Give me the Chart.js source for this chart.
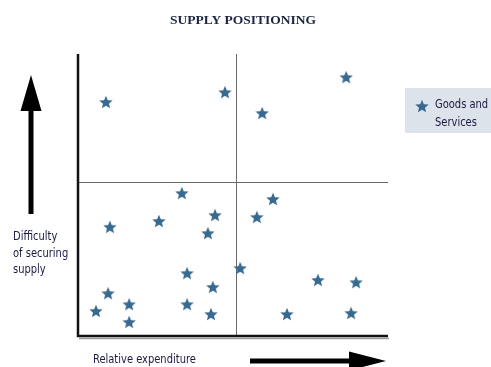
<!DOCTYPE html>
<html>
<head>
<meta charset="utf-8">
<script src="https://cdn.jsdelivr.net/npm/chart.js@4/dist/chart.umd.min.js"></script>
<style>
  html, body { margin: 0; padding: 0; background: #ffffff; }
  #wrap { width: 491px; height: 367px; }
</style>
</head>
<body>
<div id="wrap"><canvas id="c" width="491" height="367"></canvas></div>
<script>
// Supply positioning matrix: relative expenditure (x) vs difficulty of securing supply (y)
const title = 'SUPPLY POSITIONING';
const seriesName = ['Goods and', 'Services'];
const xLabel = 'Relative expenditure';
const yLabel = ['Difficulty', 'of securing', 'supply'];

const expenditure = [9.0, 47.4, 59.4, 86.5, 33.5, 62.9, 10.3, 26.1, 44.2, 41.9, 57.7, 52.3,
                     35.2, 43.5, 9.7, 16.5, 35.2, 5.8, 16.5, 42.9, 77.4, 89.7, 67.4, 88.1];
const difficulty  = [83.0, 86.5, 79.1, 91.8, 50.7, 48.6, 38.7, 40.8, 42.9, 36.5, 42.2, 24.1,
                     22.3, 17.4, 15.2, 11.3, 11.3, 8.9, 5.0, 7.8, 19.9, 19.1, 7.8, 8.2];

// quadrant split values
const xSplit = 51;
const ySplit = 54.6;

const STAR_COLOR = '#386a90';
const LABEL_FONT = '"Liberation Sans Narrow", "DejaVu Sans Condensed", "Noto Sans", sans-serif';

function makeStar(size) {
  const cv = document.createElement('canvas');
  cv.width = size; cv.height = size;
  const g = cv.getContext('2d');
  const cx = size / 2, cy = size / 2 + size * 0.05;
  const ro = size / 2, ri = ro * 0.45;
  g.beginPath();
  for (let i = 0; i < 10; i++) {
    const r = i % 2 === 0 ? ro : ri;
    const a = -Math.PI / 2 + i * Math.PI / 5;
    const px = cx + r * Math.cos(a), py = cy + r * Math.sin(a);
    if (i === 0) g.moveTo(px, py); else g.lineTo(px, py);
  }
  g.closePath();
  g.fillStyle = STAR_COLOR;
  g.fill();
  return cv;
}
const star = makeStar(14);

const points = expenditure.map((x, i) => ({ x: x, y: difficulty[i] }));

// condensed label text: face squeezed horizontally
function label(ctx, text, x, y) {
  ctx.save();
  ctx.translate(x, y);
  ctx.scale(0.92, 1);
  ctx.fillText(text, 0, 0);
  ctx.restore();
}

const decor = {
  id: 'decor',
  beforeDatasetsDraw(chart) {
    const { ctx, chartArea: a, scales: { x, y } } = chart;
    ctx.save();
    // quadrant dividers
    ctx.strokeStyle = '#6a6a6a';
    ctx.lineWidth = 1;
    const xs = Math.round(x.getPixelForValue(xSplit)) + 0.5;
    const ys = Math.round(y.getPixelForValue(ySplit)) + 0.5;
    ctx.beginPath();
    ctx.moveTo(xs, a.top); ctx.lineTo(xs, a.bottom);
    ctx.moveTo(a.left, ys); ctx.lineTo(a.right, ys);
    ctx.stroke();
    // axes
    ctx.strokeStyle = '#9a9a9a';
    ctx.lineWidth = 1.5;
    ctx.beginPath();
    ctx.moveTo(a.left + 1, a.bottom + 2.5); ctx.lineTo(a.right + 1, a.bottom + 2.5);
    ctx.stroke();
    ctx.strokeStyle = '#111111';
    ctx.lineWidth = 2.5;
    ctx.beginPath();
    ctx.moveTo(a.left, a.top); ctx.lineTo(a.left, a.bottom);
    ctx.lineTo(a.right, a.bottom);
    ctx.stroke();
    ctx.restore();
  },
  afterDraw(chart) {
    const { ctx } = chart;
    ctx.save();
    // title
    ctx.fillStyle = '#1c2640';
    ctx.font = 'bold 13.5px "Liberation Serif", "DejaVu Serif", serif';
    ctx.textAlign = 'center';
    ctx.textBaseline = 'middle';
    ctx.fillText(title, 243, 21);

    // vertical arrow
    ctx.fillStyle = '#000000';
    ctx.fillRect(28.5, 106, 5, 108);
    ctx.beginPath();
    ctx.moveTo(31, 75); ctx.lineTo(41.5, 111); ctx.lineTo(20.5, 111); ctx.closePath();
    ctx.fill();

    // horizontal arrow
    ctx.fillRect(250, 358.5, 102, 5);
    ctx.beginPath();
    ctx.moveTo(386, 361); ctx.lineTo(349, 351.5); ctx.lineTo(349, 370.5); ctx.closePath();
    ctx.fill();

    // axis labels
    ctx.fillStyle = '#1a1a40';
    ctx.font = '12px ' + LABEL_FONT;
    ctx.textAlign = 'left';
    ctx.textBaseline = 'middle';
    label(ctx, xLabel, 93, 360);
    yLabel.forEach((t, i) => label(ctx, t, 13, 237 + i * 16.5));

    // legend
    ctx.fillStyle = '#dde3ea';
    ctx.fillRect(405, 88, 86, 45);
    ctx.drawImage(star, 415, 99);
    ctx.fillStyle = '#1a1a40';
    label(ctx, seriesName[0], 435, 105);
    label(ctx, seriesName[1], 435, 123);
    ctx.restore();
  }
};

new Chart(document.getElementById('c'), {
  type: 'scatter',
  data: {
    datasets: [{
      label: seriesName.join(' '),
      data: points,
      pointStyle: star,
      pointRadius: 7,
      pointHoverRadius: 7
    }]
  },
  options: {
    responsive: false,
    animation: false,
    events: [],
    layout: { padding: { left: 78, right: 103, top: 54, bottom: 31 } },
    plugins: { legend: { display: false }, tooltip: { enabled: false }, title: { display: false } },
    scales: {
      x: { type: 'linear', min: 0, max: 100, display: false },
      y: { type: 'linear', min: 0, max: 100, display: false }
    }
  },
  plugins: [decor]
});
</script>
</body>
</html>
